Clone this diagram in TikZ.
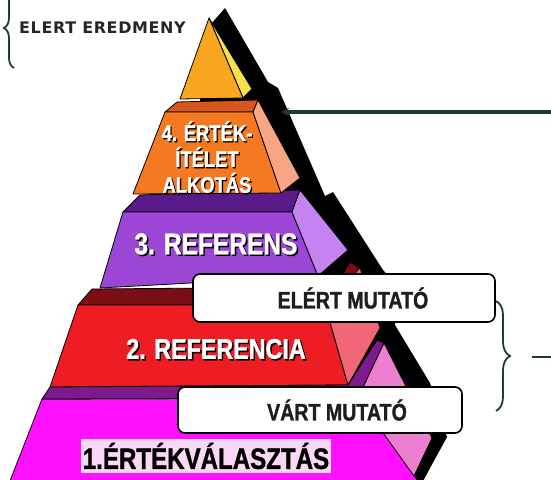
\documentclass[tikz,border=0pt]{standalone}
\usepackage{fontspec}
\setmainfont{Liberation Sans}
\newfontfamily\nar[FakeStretch=0.82,BoldFont={Liberation Sans Bold},BoldFeatures={FakeStretch=0.82,FakeBold=1.2}]{Liberation Sans}
\newfontfamily\dvs[LetterSpace=4]{DejaVu Sans}
\usetikzlibrary{arrows.meta,decorations.pathreplacing}
\definecolor{tealdark}{HTML}{1D3B3B}
\definecolor{topOr}{HTML}{F8A51F}
\definecolor{topYe}{HTML}{F6E14C}
\definecolor{fTop}{HTML}{D9561C}
\definecolor{fFront}{HTML}{F47920}
\definecolor{fSide}{HTML}{F7A585}
\definecolor{pTop}{HTML}{5A1A8A}
\definecolor{pFront}{HTML}{9C46D6}
\definecolor{pSide}{HTML}{C483F0}
\definecolor{rTop}{HTML}{7A0E12}
\definecolor{rFront}{HTML}{EE1D23}
\definecolor{rSide}{HTML}{F06878}
\definecolor{mTop}{HTML}{7D1A8C}
\definecolor{mFront}{HTML}{FF10FF}
\definecolor{mSide}{HTML}{EE7FD0}
\definecolor{hilite}{HTML}{F9D7F7}
\definecolor{boxtext}{HTML}{1E1E1E}
\begin{document}
\begin{tikzpicture}[x=1bp,y=-1bp,
  face/.style={draw=black,line width=0.8bp,line join=round},
  wtxt/.style={text=white,inner sep=0pt},
  btxt/.style={text=black,inner sep=0pt},
  mbox/.style={draw=black,line width=1.6bp,fill=white,rounded corners=7bp,
    inner sep=0pt,text=boxtext,font=\nar\bfseries\fontsize{24}{26}\selectfont},
  bracestyle/.style={draw=tealdark,line width=1.8bp,decorate},
  tealline/.style={draw=tealdark,line width=3.5bp}]
\useasboundingbox (0,0) rectangle (551,480);
% black shadow
\fill[black] (225,8) -- (268,82) -- (278,88) -- (325,196) -- (333,192) -- (383,270)
  -- (392,280) -- (395,325) -- (430,383) -- (447,437) -- (423,481) -- (380,481)
  -- (300,380) -- (250,250) -- (200,100) -- (211,24) -- cycle;
% layer 1 front
\filldraw[face,fill=mFront] (42,399) -- (358,398) -- (418,481) -- (10,481) -- cycle;
% layer 2
\filldraw[face,fill=rTop] (92,289) -- (335,287) -- (350,262) -- (362,270) -- (328,305) -- (78,305) -- cycle;
\filldraw[face,fill=rFront] (78,305) -- (325,305) -- (348,385) -- (50,387) -- cycle;
\filldraw[face,fill=rSide] (325,305) -- (360,268) -- (380,328) -- (348,385) -- cycle;
% layer 1 top face (ledge) and side
\filldraw[face,fill=mTop] (50,387) -- (348,385) -- (377,340) -- (384,343) -- (358,398) -- (42,399) -- cycle;
\filldraw[face,fill=mSide] (358,398) -- (384,343) -- (432,438) -- (414,476) -- cycle;
% layer 3
\filldraw[face,fill=pTop] (140,195) -- (300,190) -- (292,212) -- (123,212) -- cycle;
\filldraw[face,fill=pFront] (123,212) -- (292,212) -- (318,276) -- (100,288) -- cycle;
\filldraw[face,fill=pSide] (292,212) -- (300,190) -- (348,250) -- (318,276) -- cycle;
% layer 4
\filldraw[face,fill=fTop] (177,102) -- (258,100) -- (253,112) -- (165,112) -- cycle;
\filldraw[face,fill=fFront] (165,112) -- (253,112) -- (281,193) -- (133,194) -- cycle;
\filldraw[face,fill=fSide] (253,112) -- (258,100) -- (300,178) -- (281,193) -- cycle;
% top triangle
\filldraw[face,fill=topYe] (209,18) -- (252,89) -- (243,98) -- cycle;
\filldraw[face,fill=topOr] (209,18) -- (243,98) -- (180,99) -- cycle;
% layer texts
\node[btxt,align=center,font=\nar\bfseries\fontsize{22.5}{26}\selectfont] (t4s) at (208.3,158.3) {4. ÉRTÉK-\\ÍTÉLET\\ALKOTÁS};
\node[wtxt,align=center,font=\nar\bfseries\fontsize{22.5}{26}\selectfont] (t4) at (207,157) {4. ÉRTÉK-\\ÍTÉLET\\ALKOTÁS};
\node[btxt,font=\nar\bfseries\fontsize{30}{32}\selectfont] (t3s) at (217.5,245.5) {3. REFERENS};
\node[wtxt,font=\nar\bfseries\fontsize{30}{32}\selectfont] (t3) at (216,244) {3. REFERENS};
\node[btxt,font=\nar\bfseries\fontsize{28.5}{30}\selectfont] (t2s) at (217.5,350.5) {2. REFERENCIA};
\node[wtxt,font=\nar\bfseries\fontsize{28.5}{30}\selectfont] (t2) at (216,349) {2. REFERENCIA};
\node[fill=hilite,text=black,inner xsep=2bp,inner ysep=4bp,font=\nar\bfseries\fontsize{29.5}{31}\selectfont] (t1) at (206,456) {1.ÉRTÉKVÁLASZTÁS};
% boxes
\node[mbox,minimum width=302bp,minimum height=48bp] (elert) at (344,298) {\hspace*{18bp}ELÉRT MUTATÓ};
\node[mbox,minimum width=284bp,minimum height=46bp] (vart) at (320,410) {\hspace*{34bp}VÁRT MUTATÓ};
% right brace and line
\coordinate (rbTop) at (496,301);
\coordinate (rbBot) at (496,411);
\draw[bracestyle,decoration={brace,amplitude=14bp}] (rbTop) -- (rbBot);
\coordinate (rl1) at (532,357);
\coordinate (rl2) at (551,357);
\draw[tealline,line width=2.5bp] (rl1) -- (rl2);
% arrow
\coordinate (aS) at (551,112);
\coordinate (aE) at (281,112);
\draw[tealline,-{Stealth[length=8bp,width=8bp]}] (aS) -- (aE);
% top-left brace and label
\coordinate (lbBot) at (14,68);
\coordinate (lbTop) at (14,-12);
\draw[bracestyle,decoration={brace,amplitude=10bp}] (lbBot) -- (lbTop);
\node[anchor=west,inner sep=0pt,text=black!85,font=\dvs\bfseries\fontsize{16}{18}\selectfont] (eredm) at (19,28) {ELERT EREDMENY};
\end{tikzpicture}
\end{document}
